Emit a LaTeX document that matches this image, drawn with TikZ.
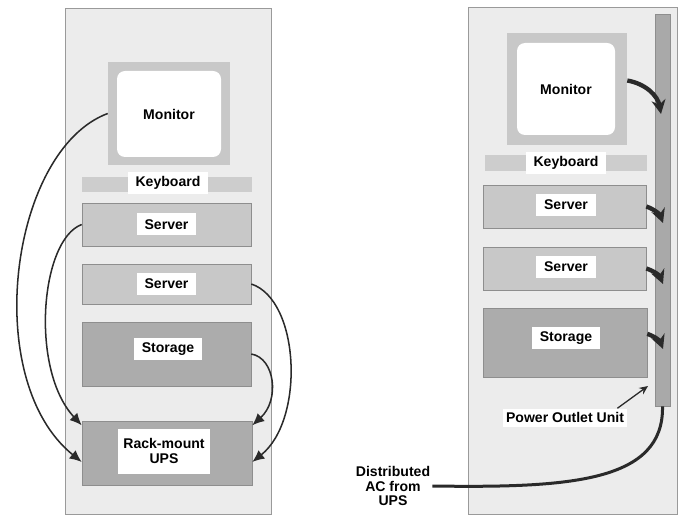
\documentclass[tikz,border=0pt]{standalone}
\usepackage{fontspec}
\setmainfont{Liberation Sans}
\usetikzlibrary{arrows.meta,calc,positioning}
\definecolor{rackGray}{HTML}{ECECEC}
\definecolor{frameGray}{HTML}{9A9A9A}
\definecolor{edgeGray}{HTML}{8E8E8E}
\definecolor{unitGray}{HTML}{C8C8C8}
\definecolor{barGray}{HTML}{CDCDCD}
\definecolor{darkUnit}{HTML}{ACACAC}
\definecolor{stripGray}{HTML}{A9A9A9}
\definecolor{cordBlack}{HTML}{2A2A2A}
\newlength\pxu
\setlength\pxu{0.03cm}

\begin{document}
\begin{tikzpicture}[x=0.03cm, y=-0.03cm,
  every node/.style={font=\bfseries\fontsize{12}{13.5}\selectfont},
  rackbox/.style={draw=frameGray,fill=rackGray,line width=0.6pt,inner sep=0pt},
  unit/.style={draw=edgeGray,fill=unitGray,line width=0.5pt,inner sep=0pt},
  bar/.style={fill=barGray,inner sep=0pt},
  screen/.style={fill=white,rounded corners=2.4mm,inner sep=0pt},
  tag/.style={fill=white,inner xsep=8\pxu,inner ysep=3\pxu,minimum height=22\pxu,align=center},
  cord/.style={-{Latex[length=3.6mm,width=3.2mm]},line width=1.3pt,cordBlack},
  plug/.style={-{Stealth[length=4.2mm,width=4.2mm]},line width=1.3mm,cordBlack},
  cable/.style={line width=0.9mm,cordBlack}]
\useasboundingbox (0,0) rectangle (683,516);

% left rack: every unit cabled to its own UPS
\node[rackbox,minimum width=206\pxu,minimum height=506\pxu] (rackL) at (168,261) {};
\node[unit,draw=none,minimum width=122\pxu,minimum height=103\pxu] (monL) at (169,113.5) {};
\node[screen,minimum width=104\pxu,minimum height=86\pxu] (scrL) at (169,114) {Monitor};
\node[bar,minimum width=170\pxu,minimum height=15\pxu] (kbL) at (167,184.5) {};
\node[tag] (kbLtag) at (168,183) {Keyboard};
\node[unit,minimum width=169\pxu,minimum height=43\pxu] (srv1L) at (166.5,224.5) {};
\node[tag] at (srv1L) {Server};
\node[unit,minimum width=169\pxu,minimum height=40\pxu] (srv2L) at (166.5,284) {};
\node[tag] at (srv2L) {Server};
\node[unit,fill=darkUnit,minimum width=169\pxu,minimum height=64\pxu] (stoL) at (166.5,354) {};
\node[tag] at (168,349) {Storage};
\node[unit,fill=darkUnit,minimum width=170\pxu,minimum height=64\pxu] (upsL) at (167,453) {};
\node[tag,inner xsep=5\pxu,minimum height=45\pxu] at (164,451) {Rack-mount\\UPS};

\draw[cord] (monL.west) .. controls (10,150) and (-20,380) .. (upsL.186);
\draw[cord] (srv1L.west) .. controls (40,240) and (30,370) .. (upsL.162);
\draw[cord] (srv2L.east) .. controls (300,300) and (305,420) .. (upsL.-6);
\draw[cord] (stoL.east) .. controls (275,358) and (280,400) .. (upsL.18);

% right rack: power outlet unit fed from the UPS
\node[rackbox,minimum width=209\pxu,minimum height=507\pxu] (rackR) at (572.5,260.5) {};
\node[unit,fill=stripGray,minimum width=15\pxu,minimum height=392\pxu] (strip) at (662.5,210) {};
\node[unit,draw=none,minimum width=120\pxu,minimum height=112\pxu] (monR) at (567,89) {};
\node[screen,minimum width=98\pxu,minimum height=92\pxu] (scrR) at (566,89) {Monitor};
\node[bar,minimum width=162\pxu,minimum height=16\pxu] (kbR) at (566,163) {};
\node[tag] (kbRtag) at (566,163) {Keyboard};
\node[unit,minimum width=163\pxu,minimum height=43\pxu] (srv1R) at (564.5,206.5) {};
\node[tag] at (566,205) {Server};
\node[unit,minimum width=163\pxu,minimum height=43\pxu] (srv2R) at (564.5,268.5) {};
\node[tag] at (566,267) {Server};
\node[unit,fill=darkUnit,minimum width=164\pxu,minimum height=69\pxu] (stoR) at (565,342.5) {};
\node[tag] at (566,338) {Storage};
\node[tag,minimum height=18\pxu,inner xsep=3\pxu] (pou) at (565,417.5) {Power Outlet Unit};
\node[align=center,inner sep=2\pxu,font=\bfseries\fontsize{12}{12.5}\selectfont] (dist) at (393,486) {Distributed\\AC from\\UPS};

\coordinate (pM) at (661,114);
\coordinate (pS1) at (663,223);
\coordinate (pS2) at (663,284);
\coordinate (pS3) at (663,349);
\coordinate (pouTip) at (648,386);

\draw[plug] (monR.8) to[bend left=35] (pM);
\draw[plug] (srv1R.east) to[bend left=25] (pS1);
\draw[plug] (srv2R.east) to[bend left=25] (pS2);
\draw[plug] (stoR.6) to[bend left=25] (pS3);
\draw[-{Stealth[length=2.6mm,width=2.3mm]},line width=1.1pt,cordBlack] (pou.10) -- (pouTip);
\draw[cable] (dist.east) .. controls (570,488) and (664,482) .. (strip.south);
\end{tikzpicture}
\end{document}
